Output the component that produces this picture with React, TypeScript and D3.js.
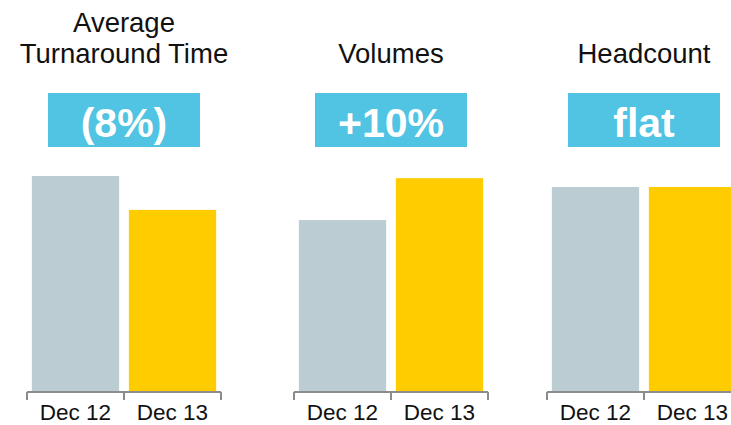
import * as d3 from "d3";

const periods = ["Dec 12", "Dec 13"];
const panelTitles = [["Average", "Turnaround Time"], ["Volumes"], ["Headcount"]];
const badgeLabels = ["(8%)", "+10%", "flat"];
const turnaroundValues = [100, 84.3];
const volumeValues = [79.6, 99];
const headcountValues = [94.9, 94.9];

const seriesValues = [turnaroundValues, volumeValues, headcountValues];

const W = 731;
const H = 425;
const baseline = 392;
const panelLeft = [27, 294, 547];
const panelWidth = 194;
const barColors = ["#BBCCD3", "#FFCC00"];
const badgeColor = "#50C4E2";
const axisColor = "#8C8C8C";
const font = "Liberation Sans, Arial, Helvetica, sans-serif";

function Panel({ idx }: { idx: number }) {
  const left = panelLeft[idx];
  const x = d3
    .scaleBand<string>()
    .domain(periods)
    .range([left, left + panelWidth])
    .paddingInner(0.1)
    .paddingOuter(0.05);
  const y = d3.scaleLinear().domain([0, 100]).range([baseline, 176]);
  const mid = left + panelWidth / 2;
  const titleLines = panelTitles[idx];
  const lastBaseline = 63;

  return (
    <g>
      {titleLines.map((t, i) => (
        <text
          key={t}
          x={mid}
          y={lastBaseline - (titleLines.length - 1 - i) * 31}
          textAnchor="middle"
          fontSize={27.5}
          fontFamily={font}
          fill="#111"
        >
          {t}
        </text>
      ))}
      <rect x={mid - 76} y={93} width={152} height={54} fill={badgeColor} />
      <text
        x={mid}
        y={137}
        textAnchor="middle"
        fontSize={41}
        fontWeight="bold"
        fontFamily={font}
        fill="#fff"
      >
        {badgeLabels[idx]}
      </text>
      {periods.map((p, i) => (
        <rect
          key={p}
          x={x(p)}
          y={y(seriesValues[idx][i])}
          width={x.bandwidth()}
          height={baseline - y(seriesValues[idx][i])}
          fill={barColors[i]}
        />
      ))}
      <line x1={left} x2={left + panelWidth} y1={baseline} y2={baseline} stroke={axisColor} strokeWidth={2} />
      {[left, mid, left + panelWidth].map((tx, i) => (
        <line key={i} x1={tx} x2={tx} y1={baseline} y2={baseline + 8} stroke={axisColor} strokeWidth={2} />
      ))}
      {periods.map((p) => (
        <text
          key={p}
          x={(x(p) || 0) + x.bandwidth() / 2}
          y={420}
          textAnchor="middle"
          fontSize={22.5}
          fontFamily={font}
          fill="#111"
        >
          {p}
        </text>
      ))}
    </g>
  );
}

export default function App() {
  return (
    <div style={{ position: "fixed", left: 0, top: 0, background: "#fff" }}>
      <svg width={W} height={H} style={{ display: "block" }}>
        <rect width={W} height={H} fill="#fff" />
        {seriesValues.map((_, i) => (
          <Panel key={i} idx={i} />
        ))}
      </svg>
    </div>
  );
}
